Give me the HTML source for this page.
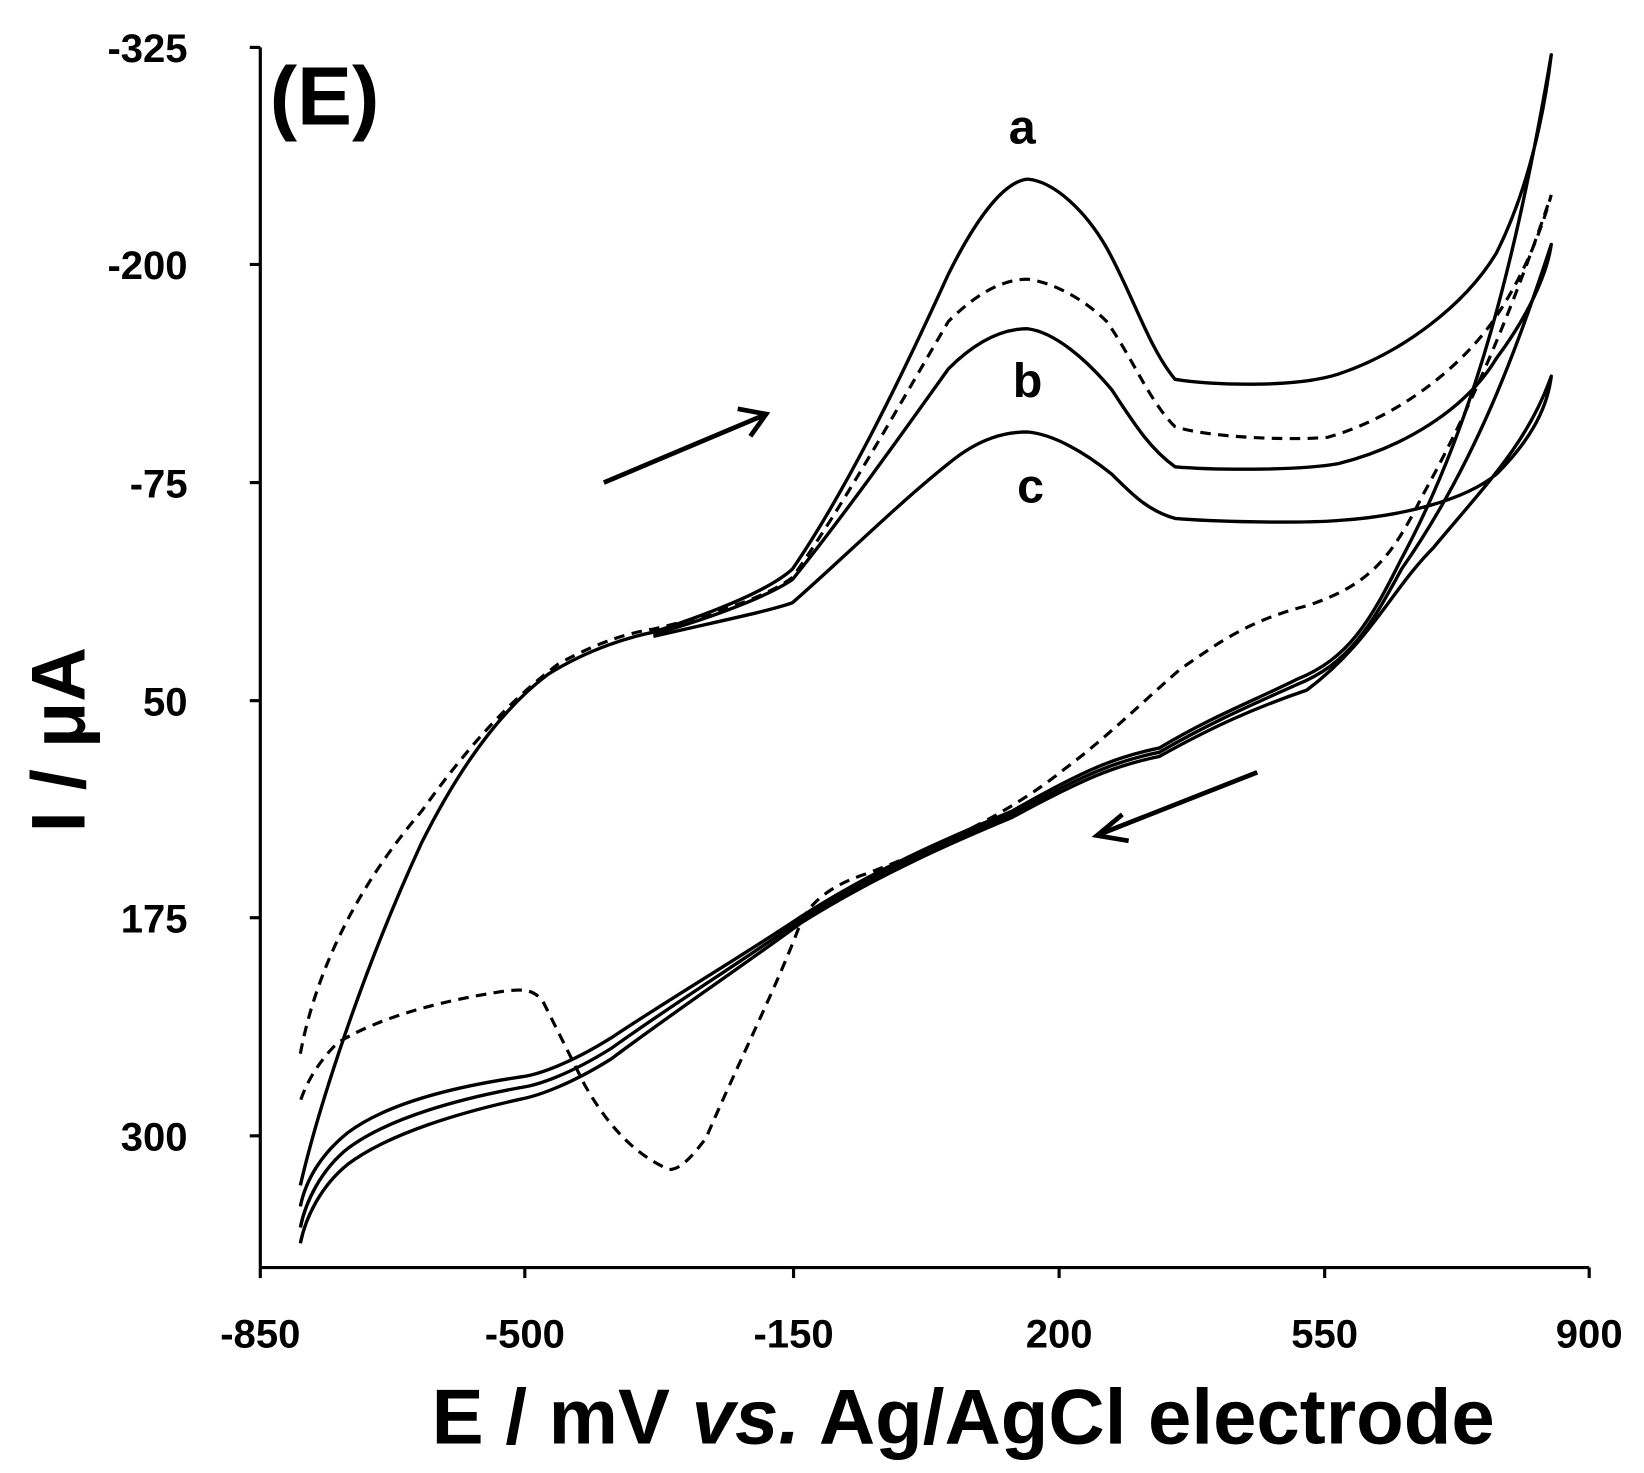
<!DOCTYPE html>
<html><head><style>html,body{margin:0;padding:0;background:#fff}svg{display:block}</style></head>
<body>
<svg width="1644" height="1473" viewBox="0 0 1560 1398" preserveAspectRatio="none" xmlns="http://www.w3.org/2000/svg" font-family="Liberation Sans, Arial, sans-serif" font-weight="bold">
<rect width="1560" height="1398" fill="#fff"/>
<g stroke="#000" stroke-width="3" fill="none">
<line x1="247" y1="45" x2="247" y2="1203"/>
<line x1="247" y1="1203" x2="1508" y2="1203"/>
<line x1="237" y1="45" x2="247" y2="45"/><line x1="237" y1="251" x2="247" y2="251"/><line x1="237" y1="458" x2="247" y2="458"/><line x1="237" y1="665" x2="247" y2="665"/><line x1="237" y1="871" x2="247" y2="871"/><line x1="237" y1="1078" x2="247" y2="1078"/>
<line x1="247" y1="1203" x2="247" y2="1213"/><line x1="498" y1="1203" x2="498" y2="1213"/><line x1="753" y1="1203" x2="753" y2="1213"/><line x1="1005" y1="1203" x2="1005" y2="1213"/><line x1="1257" y1="1203" x2="1257" y2="1213"/><line x1="1508" y1="1203" x2="1508" y2="1213"/>
</g>
<g font-size="38" text-anchor="end">
<text x="178" y="59">-325</text><text x="178" y="265">-200</text><text x="178" y="472">-75</text><text x="178" y="679">50</text><text x="178" y="885">175</text><text x="178" y="1092">300</text>
</g>
<g font-size="38" text-anchor="middle">
<text x="247" y="1279">-850</text><text x="498" y="1279">-500</text><text x="753" y="1279">-150</text><text x="1005" y="1279">200</text><text x="1257" y="1279">550</text><text x="1508" y="1279">900</text>
</g>
<text x="914" y="1370" font-size="74" text-anchor="middle">E / mV <tspan font-style="italic">vs.</tspan> Ag/AgCl electrode</text>
<text transform="translate(80,702) rotate(-90)" font-size="72" text-anchor="middle">I / μA</text>
<text x="256" y="118" font-size="78">(E)</text>
<g font-size="46" text-anchor="middle"><text x="970" y="136">a</text><text x="975" y="377">b</text><text x="978" y="477">c</text></g>
<g stroke="#000" stroke-width="3.2" fill="none" stroke-linejoin="round">
<path d="M285,1125 C300,1060 340,930 400,800 C440,720 480,670 520,640 C560,615 600,604 620,600"/>
<path d="M620,600 C680,580 730,560 752,540 C800,470 850,370 900,260 C930,200 955,172 975,170 C1000,172 1030,200 1050,235 C1075,280 1090,330 1115,360 C1150,366 1230,368 1270,355 C1330,335 1390,290 1420,240 C1450,180 1465,110 1472,52 C1440,240 1400,400 1330,530 C1300,590 1280,625 1230,645 C1190,665 1150,680 1100,710 C1060,718 1030,730 960,770 C900,795 830,825 760,870 C700,910 640,945 580,985 C540,1010 510,1020 495,1022 C440,1030 370,1045 330,1075 C305,1095 290,1120 285,1145"/>
<path d="M620,602 C680,585 730,565 752,550 C800,490 850,420 900,350 C930,320 955,312 975,312 C1000,315 1030,340 1055,370 C1075,400 1090,425 1115,443 C1150,446 1230,447 1270,440 C1330,425 1390,390 1420,340 C1450,300 1468,260 1472,232 C1440,330 1400,440 1330,540 C1300,595 1280,630 1230,650 C1190,668 1150,685 1100,714 C1060,722 1030,734 960,773 C900,798 830,828 760,873 C700,915 640,952 580,995 C540,1020 510,1030 495,1032 C440,1042 370,1060 330,1090 C305,1110 290,1140 285,1165"/>
<path d="M620,604 C680,590 730,580 752,572 C800,530 850,480 900,440 C930,415 955,410 975,410 C1000,412 1030,430 1055,450 C1075,470 1090,485 1115,492 C1150,495 1230,497 1270,494 C1330,490 1390,475 1420,450 C1450,420 1468,390 1472,357 C1450,420 1410,460 1360,520 C1320,560 1300,610 1240,655 C1190,672 1150,690 1100,718 C1060,726 1030,738 960,776 C900,801 830,832 760,876 C700,920 640,960 580,1005 C540,1030 510,1040 495,1043 C440,1055 370,1075 330,1105 C305,1125 290,1155 285,1180"/>
</g>
<g stroke="#000" stroke-width="3" fill="none" stroke-dasharray="10,7">
<path d="M285,1000 C300,920 340,840 400,770 C450,700 490,660 530,630 C570,608 600,600 620,597 C680,583 730,565 752,548 C800,480 850,390 900,305 C930,275 955,265 975,265 C1000,268 1030,285 1050,305 C1075,340 1090,380 1115,405 C1150,416 1230,418 1260,415 C1330,395 1390,345 1420,300 C1450,255 1465,210 1472,185 C1440,280 1400,380 1350,470 C1320,530 1300,555 1240,575 C1180,590 1150,615 1120,635 C1080,670 1050,700 1010,730 C960,770 900,800 820,830 C790,840 770,855 760,875 C740,930 700,1010 670,1080 C655,1100 645,1110 635,1110 C600,1095 575,1065 555,1030 C540,1000 525,970 515,950 C505,938 495,938 470,942 C420,950 360,965 320,990 C300,1010 290,1030 285,1045"/>
</g>
<g stroke="#000" stroke-width="4.5" fill="none">
<line x1="573" y1="458" x2="725" y2="394"/><polyline points="700,388 727,393 712,414"/>
<line x1="1193" y1="733" x2="1043" y2="792"/><polyline points="1065,773 1041,793 1071,798"/>
</g>
</svg>
</body></html>
